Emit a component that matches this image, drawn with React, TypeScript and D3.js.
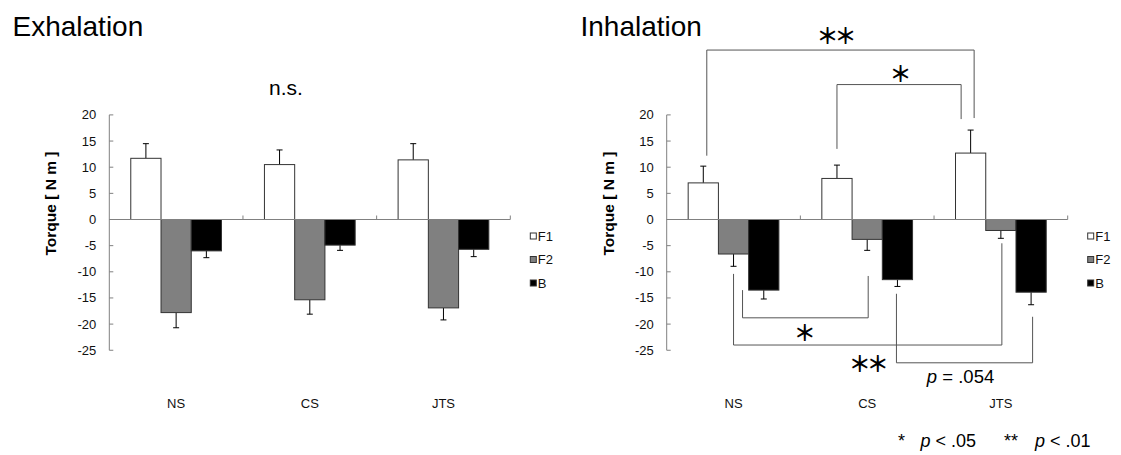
import React from 'react';
import * as d3 from 'd3';

const categories = ['NS', 'CS', 'JTS'];
const seriesNames = ['F1', 'F2', 'B'];
const seriesFill = ['#ffffff', '#808080', '#000000'];
const yTicks = [20, 15, 10, 5, 0, -5, -10, -15, -20, -25];

// exhalation means and SDs (F1, F2, B per category)
const exhF1 = [11.7, 10.5, 11.4];
const exhF2 = [-17.8, -15.35, -16.9];
const exhB = [-6.0, -4.9, -5.7];
const exhF1Sd = [2.8, 2.8, 3.1];
const exhF2Sd = [2.9, 2.75, 2.3];
const exhBSd = [1.3, 1.0, 1.4];

// inhalation
const inhF1 = [7.0, 7.85, 12.7];
const inhF2 = [-6.6, -3.8, -2.1];
const inhB = [-13.5, -11.5, -13.9];
const inhF1Sd = [3.2, 2.55, 4.4];
const inhF2Sd = [2.35, 2.1, 1.5];
const inhBSd = [1.7, 1.3, 2.4];

// significance brackets on the inhalation panel (levels in torque units)
const brackets = [
  {label: '**', a: ['NS', 'F1'], b: ['JTS', 'F1'], level: 32.4, aEnd: 12.2, bEnd: 19.4, aDx: 3.5, bDx: 3.5, lx: -6, ly: -16.5},
  {label: '*', a: ['CS', 'F1'], b: ['JTS', 'F1'], level: 25.8, aEnd: 13.5, bEnd: 19.2, aDx: 0, bDx: -9.5, lx: 1.5, ly: -12.5},
  {label: '*', a: ['NS', 'F2'], b: ['CS', 'F2'], level: -18.8, aEnd: -13.5, bEnd: -10.8, aDx: 9, bDx: 1, lx: -0.5, ly: 13},
  {label: '**', a: ['NS', 'F2'], b: ['JTS', 'F2'], level: -24.0, aEnd: -10.4, bEnd: -4.55, aDx: 0, bDx: 1, lx: -1, ly: 16.5},
  {label: 'p = .054', a: ['CS', 'B'], b: ['JTS', 'B'], level: -27.4, aEnd: -14.2, bEnd: -18.6, aDx: -1, bDx: 1.5, lx: -4, ly: 20},
];

const font = '"Liberation Sans", Arial, sans-serif';
const star = '"Noto Sans CJK JP", "DejaVu Sans", sans-serif';

const y = d3.scaleLinear().domain([-25, 20]).range([350.25, 114.9]);

function makeX(x0) {
  const xCat = d3.scaleBand().domain(categories).range([x0, x0 + 401]);
  const xSer = d3.scaleBand().domain(seriesNames).range([0, xCat.bandwidth()]).paddingOuter(0.71);
  return {xCat, xSer};
}

function Panel({x0, title, titleX, values, sds, children}) {
  const {xCat, xSer} = makeX(x0);
  const x1 = x0 + 401;
  const bw = xSer.bandwidth();
  return (
    <g>
      <text x={titleX} y={36} fontFamily={font} fontSize={28} fill="#000">{title}</text>
      <text transform={`translate(${x0 - 53},203.5) rotate(-90)`} textAnchor="middle"
            fontFamily={font} fontSize={15.5} fontWeight="bold" fill="#000">Torque [ N m ]</text>
      {yTicks.map(t => (
        <g key={t}>
          <line x1={x0} x2={x0 + 4} y1={y(t)} y2={y(t)} stroke="#808080"/>
          <text x={x0 - 13} y={y(t) + 4.5} textAnchor="end" fontFamily={font} fontSize={13} fill="#111">{t}</text>
        </g>
      ))}
      {seriesNames.map((s, si) => categories.map((c, ci) => {
        const v = values[si][ci];
        const sd = sds[si][ci];
        const bx = xCat(c) + xSer(s);
        const cx = bx + bw / 2;
        const end = v + Math.sign(v) * sd;
        return (
          <g key={s + c}>
            <line x1={cx} x2={cx} y1={y(v)} y2={y(end)} stroke="#000"/>
            <line x1={cx - 3} x2={cx + 3} y1={y(end)} y2={y(end)} stroke="#000"/>
            <rect x={bx} width={bw} y={Math.min(y(v), y(0))} height={Math.abs(y(v) - y(0))}
                  fill={seriesFill[si]} stroke="#333" strokeWidth={1}/>
          </g>
        );
      }))}
      <line x1={x0} x2={x0} y1={y(20)} y2={y(-25)} stroke="#808080"/>
      <line x1={x0} x2={x1} y1={y(0)} y2={y(0)} stroke="#808080"/>
      {categories.map(c => (
        <g key={c}>
          <line x1={xCat(c) + xCat.bandwidth()} x2={xCat(c) + xCat.bandwidth()} y1={y(0)} y2={y(0) - 4} stroke="#808080"/>
          <text x={xCat(c) + xCat.bandwidth() / 2} y={408} textAnchor="middle" fontFamily={font} fontSize={13} fill="#111">{c}</text>
        </g>
      ))}
      {seriesNames.map((s, si) => (
        <g key={s}>
          <rect x={x1 + 20} y={233 + si * 23.5} width={6} height={6} fill={seriesFill[si]} stroke="#333"/>
          <text x={x1 + 27.5} y={240.5 + si * 23.5} fontFamily={font} fontSize={13} fill="#111">{s}</text>
        </g>
      ))}
      {children}
    </g>
  );
}

function Brackets({x0}) {
  const {xCat, xSer} = makeX(x0);
  const bx = (ref) => xCat(ref[0]) + xSer(ref[1]) + xSer.bandwidth() / 2;
  return (
    <g>
      {brackets.map((b, i) => {
        const xa = bx(b.a) + b.aDx;
        const xb = bx(b.b) + b.bDx;
        const yl = y(b.level);
        const mx = (xa + xb) / 2 + b.lx;
        const isP = b.label.startsWith('p');
        return (
          <g key={i}>
            <path d={`M${xa},${y(b.aEnd)}V${yl}H${xb}V${y(b.bEnd)}`} fill="none" stroke="#555" strokeWidth={1}/>
            {isP ? (
              <text x={mx} y={yl + b.ly} textAnchor="middle" fontFamily={font} fontSize={18.5} fill="#000">
                <tspan fontStyle="italic">p</tspan> = .054
              </text>
            ) : (
              <text x={mx} y={yl + b.ly} textAnchor="middle" dominantBaseline="central"
                    fontFamily={star} fontSize={22} fontWeight="bold"
                    letterSpacing={b.label.length > 1 ? -4 : 0} fill="#000">
                {b.label === '**' ? '＊＊' : '＊'}
              </text>
            )}
          </g>
        );
      })}
    </g>
  );
}

export default function App() {
  const exhValues = [exhF1, exhF2, exhB];
  const exhSds = [exhF1Sd, exhF2Sd, exhBSd];
  const inhValues = [inhF1, inhF2, inhB];
  const inhSds = [inhF1Sd, inhF2Sd, inhBSd];
  return (
    <svg width={1121} height={455} style={{position: 'absolute', left: 0, top: 0, background: '#fff'}}>
      <rect width={1121} height={455} fill="#fff"/>
      <Panel x0={109.3} title="Exhalation" titleX={12.5} values={exhValues} sds={exhSds}>
        <text x={269} y={95} fontFamily={font} fontSize={21} fill="#000">n.s.</text>
      </Panel>
      <Panel x0={666.7} title="Inhalation" titleX={580.5} values={inhValues} sds={inhSds}>
        <Brackets x0={666.7}/>
      </Panel>
      <text y={447} fontFamily={font} fontSize={18} fill="#000">
        <tspan x={898}>*</tspan>
        <tspan x={920.5} fontStyle="italic">p</tspan>
        <tspan> &lt; .05</tspan>
        <tspan x={1004}>**</tspan>
        <tspan x={1035} fontStyle="italic">p</tspan>
        <tspan> &lt; .01</tspan>
      </text>
    </svg>
  );
}
